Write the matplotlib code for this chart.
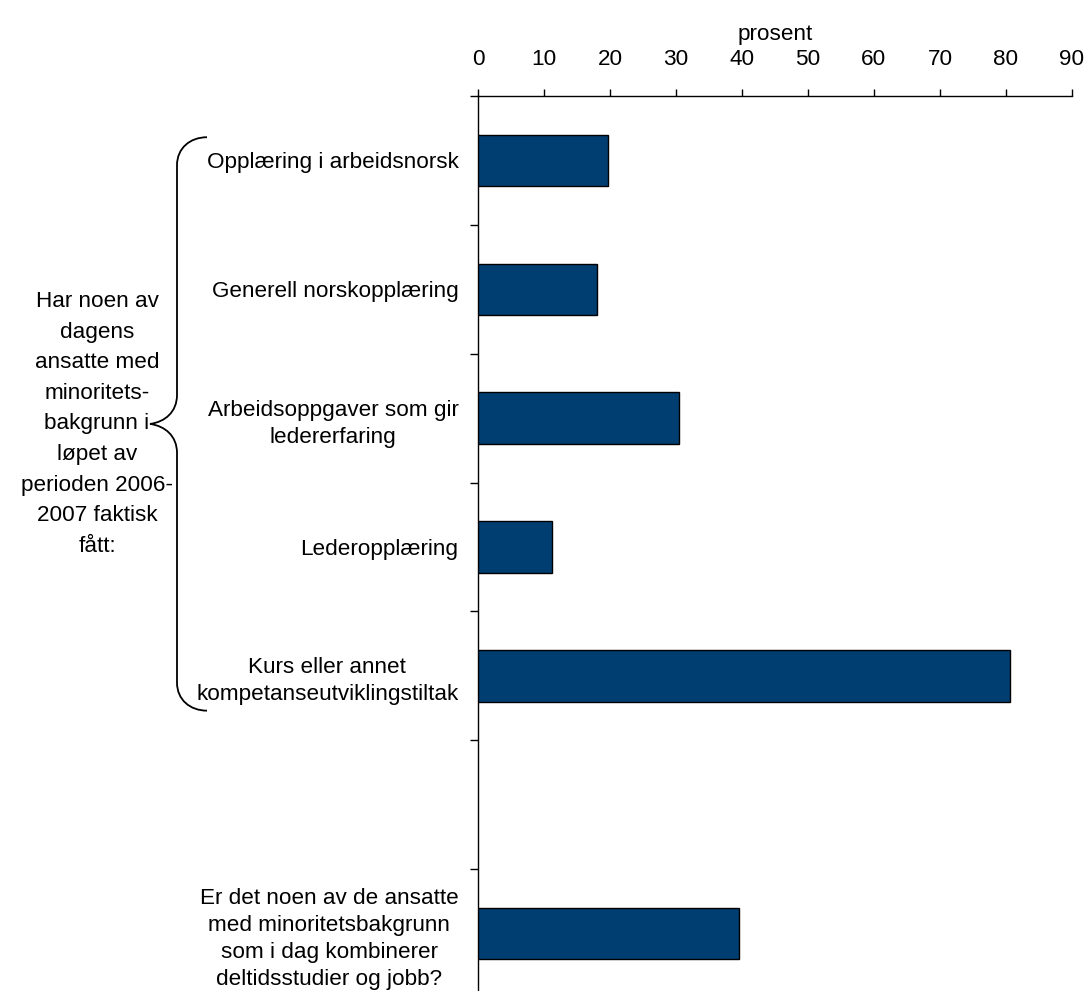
import matplotlib
matplotlib.use("Agg")
import matplotlib.pyplot as plt
from matplotlib.path import Path
from matplotlib.patches import PathPatch
from matplotlib.transforms import IdentityTransform

plt.rcParams['font.family'] = ['Liberation Sans', 'DejaVu Sans']

# survey answers, top to bottom (empty string = spacer slot)
categories = [
    "Opplæring i arbeidsnorsk",
    "Generell norskopplæring",
    "Arbeidsoppgaver som gir\nledererfaring",
    "Lederopplæring",
    "Kurs eller annet\nkompetanseutviklingstiltak",
    "",
    "Er det noen av de ansatte\nmed minoritetsbakgrunn\nsom i dag kombinerer\ndeltidsstudier og jobb?",
]
values = [19.7, 18.0, 30.5, 11.2, 80.6, None, 39.6]
x_ticks = [0, 10, 20, 30, 40, 50, 60, 70, 80, 90]
group_label = ("Har noen av\ndagens\nansatte med\nminoritets-\nbakgrunn i\nløpet av\n"
               "perioden 2006-\n2007 faktisk\nfått:")

FS = 16.2
W, H = 1087, 991
fig = plt.figure(figsize=(W / 100, H / 100), dpi=100)
ax = fig.add_axes([478 / W, 1 - 998 / H, (1072 - 478) / W, (998 - 96) / H])

pos = list(range(len(categories)))
bar_pos = [p for p, v in zip(pos, values) if v is not None]
bar_val = [v for v in values if v is not None]
ax.barh(bar_pos, bar_val, height=0.4, color="#003D70", edgecolor="black", linewidth=1.0, zorder=3)

ax.set_xlim(0, 90)
ax.set_ylim(len(categories) - 0.5, -0.5)

# x axis on top
ax.xaxis.tick_top()
ax.xaxis.set_label_position("top")
ax.set_xticks(x_ticks)
ax.tick_params(axis="x", direction="out", length=5, width=1, pad=14, labelsize=FS, colors="black")
ax.set_xlabel("prosent", fontsize=FS, labelpad=6)

# category labels centred on bars, tick marks on slot boundaries
ax.set_yticks(pos)
ax.set_yticklabels(categories, fontsize=FS, multialignment="center", linespacing=1.38)
ax.tick_params(axis="y", which="major", length=0, pad=14)
ax.set_yticks([p - 0.5 for p in pos] + [len(pos) - 0.5], minor=True)
ax.tick_params(axis="y", which="minor", direction="out", length=6, width=1, color="black")

for side in ("right", "bottom"):
    ax.spines[side].set_visible(False)
for side in ("top", "left"):
    ax.spines[side].set_linewidth(1.0)
    ax.spines[side].set_color("black")

# curly brace grouping the first five answers
fig.canvas.draw()
y_top = ax.transData.transform((0, -0.18))[1]
y_bot = ax.transData.transform((0, 4.27))[1]
y_mid = (y_top + y_bot) / 2
x_end, x_bar, x_tip = 207, 177, 150
verts = [
    (x_end, y_top), (190, y_top), (x_bar, y_top - 11), (x_bar, y_top - 28),
    (x_bar, y_mid + 29),
    (x_bar, y_mid + 12), (165, y_mid + 2), (x_tip, y_mid),
    (165, y_mid - 2), (x_bar, y_mid - 12), (x_bar, y_mid - 29),
    (x_bar, y_bot + 28),
    (x_bar, y_bot + 11), (190, y_bot), (x_end, y_bot),
]
codes = [Path.MOVETO, Path.CURVE4, Path.CURVE4, Path.CURVE4,
         Path.LINETO,
         Path.CURVE4, Path.CURVE4, Path.CURVE4,
         Path.CURVE4, Path.CURVE4, Path.CURVE4,
         Path.LINETO,
         Path.CURVE4, Path.CURVE4, Path.CURVE4]
brace = PathPatch(Path(verts, codes), transform=IdentityTransform(),
                  facecolor="none", edgecolor="black", linewidth=1.3)
fig.patches.append(brace)

fig.text(97 / W, y_mid / H, group_label, ha="center", va="center",
         multialignment="center", fontsize=FS, linespacing=1.6)

fig.savefig("out.png", dpi=100, facecolor="white")
